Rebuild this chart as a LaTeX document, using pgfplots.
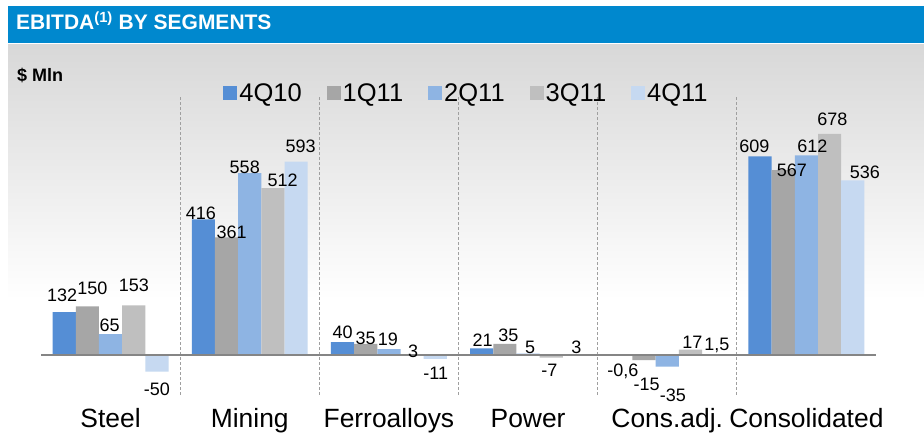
\documentclass[border=0pt]{standalone}
\usepackage{pgfplots}
\pgfplotsset{compat=1.18}
\usepackage{pgfplotstable}
\usepackage{fontspec}
\setmainfont{Liberation Sans}
\definecolor{hdr}{RGB}{0,136,206}
\definecolor{cA}{RGB}{85,142,213}
\definecolor{cB}{RGB}{166,166,166}
\definecolor{cC}{RGB}{142,180,227}
\definecolor{cD}{RGB}{191,191,191}
\definecolor{cE}{RGB}{198,217,241}
\definecolor{bgtop}{RGB}{216,216,216}

% columns: x y label dx dy (label offsets in pt)
\pgfplotstableread{
x y lab dx dy
0 132 132 -2 10.5
1 416 416 -2.5 0
2 40 40 0 4
3 21 21 1 1.7
4 -0.6 {-0,6} 2 -21
5 609 609 -5.6 4
}\tA
\pgfplotstableread{
x y lab dx dy
0 150 150 5 12
1 361 361 5 -0.6
2 35 35 0 -1
3 35 35 3.6 2.2
4 -15 -15 2.6 -30
5 567 567 8.7 -6.5
}\tB
\pgfplotstableread{
x y lab dx dy
0 65 65 -1 2.5
1 558 558 -5 0
2 19 19 -1 4
3 5 5 2 -0.3
4 -35 -35 5.7 -35
5 612 612 6 2.8
}\tC
\pgfplotstableread{
x y lab dx dy
0 153 153 0 13.6
1 512 512 9.6 1.4
2 3 3 1 -3
3 -7 -7 -2 -19
4 17 17 2 1.4
5 678 678 2.8 8.9
}\tD
\pgfplotstableread{
x y lab dx dy
0 -50 -50 0 -23.4
1 593 593 4.4 8.7
2 -11 -11 0.5 -21
3 3 3 2 1
4 1.5 {1,5} 3.3 4.8
5 536 536 12 2.3
}\tE

\begin{document}
\begin{tikzpicture}
\useasboundingbox (0pt,0pt) rectangle (924pt,433pt);
\fill[white] (0pt,0pt) rectangle (924pt,433pt);
\shade[top color=bgtop, bottom color=white] (8pt,133pt) rectangle (924pt,388pt);
\fill[hdr] (8pt,390pt) rectangle (924pt,427pt);
\node[anchor=base west, inner sep=0pt, text=white, font=\bfseries\fontsize{21}{25}\selectfont] at (16pt,403pt) {EBITDA\textsuperscript{(1)} BY SEGMENTS};
\node[anchor=base west, inner sep=0pt, font=\bfseries\fontsize{18}{21}\selectfont] at (17pt,351pt) {\$ Mln};
\begin{axis}[
  at={(41pt,38pt)}, anchor=south west,
  scale only axis, width=835pt, height=299.9pt,
  xmin=-0.5, xmax=5.5, ymin=-121.6, ymax=797,
  clip=false, axis on top,
  axis line style={draw=none},
  major tick length=0pt,
  ytick=\empty,
  xtick={0,1,2,3,4,5},
  xticklabels={Steel,Mining,Ferroalloys,Power,Cons.adj.,Consolidated},
  xticklabel style={anchor=base, yshift=-33pt, font=\fontsize{26.4}{30}\selectfont},
  extra x ticks={0.5,1.5,2.5,3.5,4.5},
  extra x tick labels={},
  extra x tick style={grid=major, major grid style={dash pattern=on 3pt off 2pt, gray!75, line width=0.7pt}},
  extra y ticks={0},
  extra y tick labels={},
  extra y tick style={grid=major, major grid style={black!48, line width=1.8pt}},
  ybar, bar width=0.1667,
  point meta=explicit symbolic,
  nodes near coords,
  visualization depends on={\thisrow{dx} \as \dx},
  visualization depends on={\thisrow{dy} \as \dy},
  every node near coord/.append style={anchor=base, inner sep=0pt, xshift=\dx pt, yshift=\dy pt, font=\fontsize{18}{21}\selectfont, text=black},
  legend columns=5,
  legend image code/.code={\fill[#1] (0pt,-7pt) rectangle (14pt,7pt);},
  legend style={at={(0.5096,1.007)}, anchor=center, draw=none, fill=none,
    font=\fontsize{25.5}{29}\selectfont,
    /tikz/every even column/.append style={column sep=23pt}},
]
\addplot[fill=cA, draw=none, bar shift=-0.3333] table[x=x, y=y, meta=lab] {\tA};
\addplot[fill=cB, draw=none, bar shift=-0.1667] table[x=x, y=y, meta=lab] {\tB};
\addplot[fill=cC, draw=none, bar shift=0] table[x=x, y=y, meta=lab] {\tC};
\addplot[fill=cD, draw=none, bar shift=0.1667] table[x=x, y=y, meta=lab] {\tD};
\addplot[fill=cE, draw=none, bar shift=0.3333] table[x=x, y=y, meta=lab] {\tE};
\legend{4Q10,1Q11,2Q11,3Q11,4Q11}
\end{axis}
\end{tikzpicture}
\end{document}
